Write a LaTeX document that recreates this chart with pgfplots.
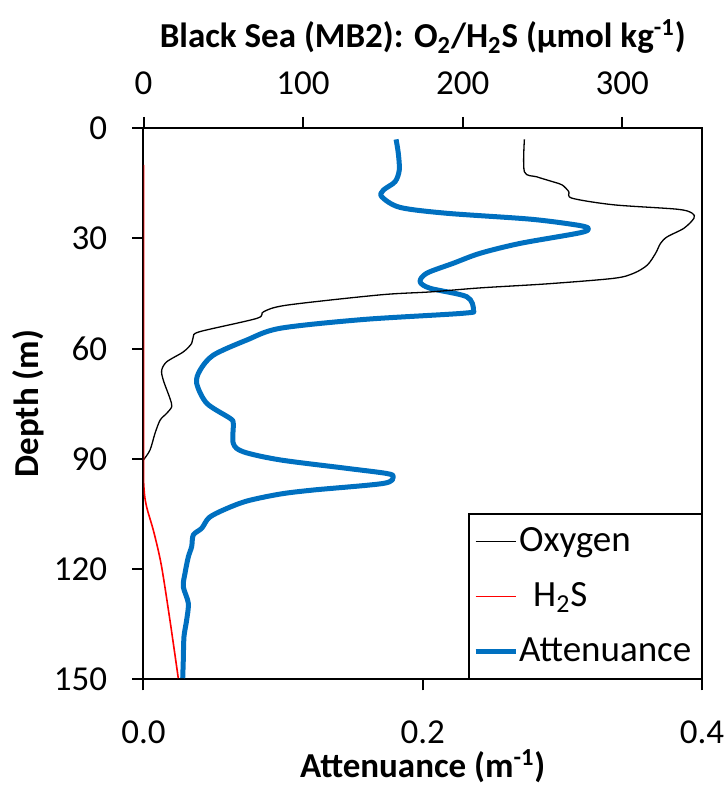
\documentclass[border=0pt]{standalone}
\usepackage{fontspec}
\setmainfont{Carlito}
\usepackage{pgfplots}
\pgfplotsset{compat=1.18}
\definecolor{attblue}{RGB}{0,112,192}
\definecolor{hsred}{RGB}{255,0,0}
\begin{document}
\begin{tikzpicture}
\pgfplotsset{
  common/.style={
    scale only axis, width=279.25pt, height=275.65pt,
    ymin=0, ymax=150, y dir=reverse,
    tick align=outside, major tick length=5.5pt,
    tick style={black, line width=1pt},
    axis line style={line width=1pt},
    tick label style={font=\fontsize{17.5}{21}\selectfont, inner sep=0pt},
    /pgf/number format/assume math mode=true,
    label style={font=\bfseries\fontsize{17.5}{21}\selectfont},
  }
}
\begin{axis}[common,
  xmin=0, xmax=0.4, xtick={0,0.2,0.4}, ytick={0,30,60,90,120,150},
  xtick pos=bottom, ytick pos=left,
  xticklabel style={anchor=base, yshift=-26.8pt, /pgf/number format/.cd, fixed, fixed zerofill, precision=1},
  yticklabel style={anchor=east, xshift=-12.5pt},
  xlabel={Attenuance (m\textsuperscript{-1})},
  xlabel style={at={(axis description cs:0.5,0)}, anchor=base, yshift=-49.3pt},
  ylabel={Depth (m)},
  ylabel style={at={(axis description cs:-0.2068,0.5)}, anchor=center},
]
\addplot[attblue, line width=2.5pt, smooth, line join=round] table {
0.1809 3.1
0.1825 6.9
0.1832 11.4
0.1802 14.6
0.1718 16.9
0.1706 18.7
0.1837 21.6
0.2172 23.2
0.2769 24.8
0.3103 26.4
0.3186 27.3
0.3127 28.5
0.2697 31.4
0.2410 34.1
0.2219 36.8
0.2029 39.5
0.1981 41.8
0.2052 43.6
0.2315 45.9
0.2362 49.5
0.2291 50.4
0.1575 52.1
0.0978 54.5
0.0739 57.7
0.0500 61.8
0.0405 65.9
0.0381 69.5
0.0453 74.9
0.0620 79.0
0.0643 80.4
0.0643 85.8
0.0715 88.1
0.0978 90.3
0.1456 92.6
0.1742 94.0
0.1789 94.9
0.1718 96.7
0.1216 98.5
0.0978 99.6
0.0740 101.5
0.0580 103.8
0.0470 106.0
0.0417 108.9
0.0357 110.7
0.0345 113.9
0.0321 116.7
0.0297 121.2
0.0285 124.8
0.0321 129.3
0.0309 133.9
0.0290 138.4
0.0285 144.8
0.0281 149.7
};
\coordinate (sw) at (axis cs:0,150);
\coordinate (ne) at (axis cs:0.4,0);
\end{axis}
\begin{axis}[common,
  xmin=0, xmax=350, xtick={0,100,200,300},
  axis x line*=top, hide y axis,
  xticklabel style={anchor=base, yshift=11pt},
  title={Black Sea (MB2): O\textsubscript{2}/H\textsubscript{2}S (µmol kg\textsuperscript{-1})},
  title style={at={(axis description cs:0.5,1)}, anchor=base, yshift=34pt, font=\bfseries\fontsize{17.5}{21}\selectfont},
  legend style={at={(1,0)}, anchor=south east, draw=black, line width=0.75pt, fill=white,
    font=\fontsize{18.5}{22}\selectfont, inner xsep=2pt, inner ysep=5pt, row sep=10pt,
    nodes={inner xsep=0.5pt, inner ysep=2pt}},
  legend cell align=left,
  legend image code/.code={\draw[#1] (0pt,0pt) -- (20pt,0pt);},
]
\addplot[black, line width=0.65pt, smooth] table {
238.7 3.1
238.7 11.9
246.6 13.3
257.1 14.7
262.4 15.5
266.5 17.3
268.6 19.1
294.7 20.9
334.5 22.1
343.9 23.2
344.9 24.6
338.6 27.3
328.2 29.6
324.0 31.4
320.9 34.1
315.7 37.3
307.3 39.5
294.7 40.9
253.0 42.4
211.1 43.5
179.7 44.6
148.4 45.4
89.8 48.2
75.2 50.0
71.0 51.8
35.4 55.4
31.2 56.8
30.2 58.6
25.0 60.9
14.6 63.6
11.4 65.9
12.4 68.6
16.6 73.6
17.7 75.8
14.6 77.6
10.4 79.5
7.2 83.1
4.1 87.6
0 90.3
};
\addlegendentry{Oxygen}
\addplot[hsred, line width=0.8pt, smooth] table {
0 10
0 90
0 95
0.3 98
1.0 101
2.5 104
6.5 110
11.2 119
16.6 134
21.8 149.7
};
\addlegendentry{\hspace*{7pt}H\textsubscript{2}S}
\addlegendimage{attblue, line width=2.5pt}
\addlegendentry{Attenuance\hspace*{2.5pt}}
\end{axis}
\pgfresetboundingbox
\path ([shift={(-71.75pt,-53.35pt)}]sw) rectangle ([shift={(12.5pt,64pt)}]ne);
\end{tikzpicture}
\end{document}
